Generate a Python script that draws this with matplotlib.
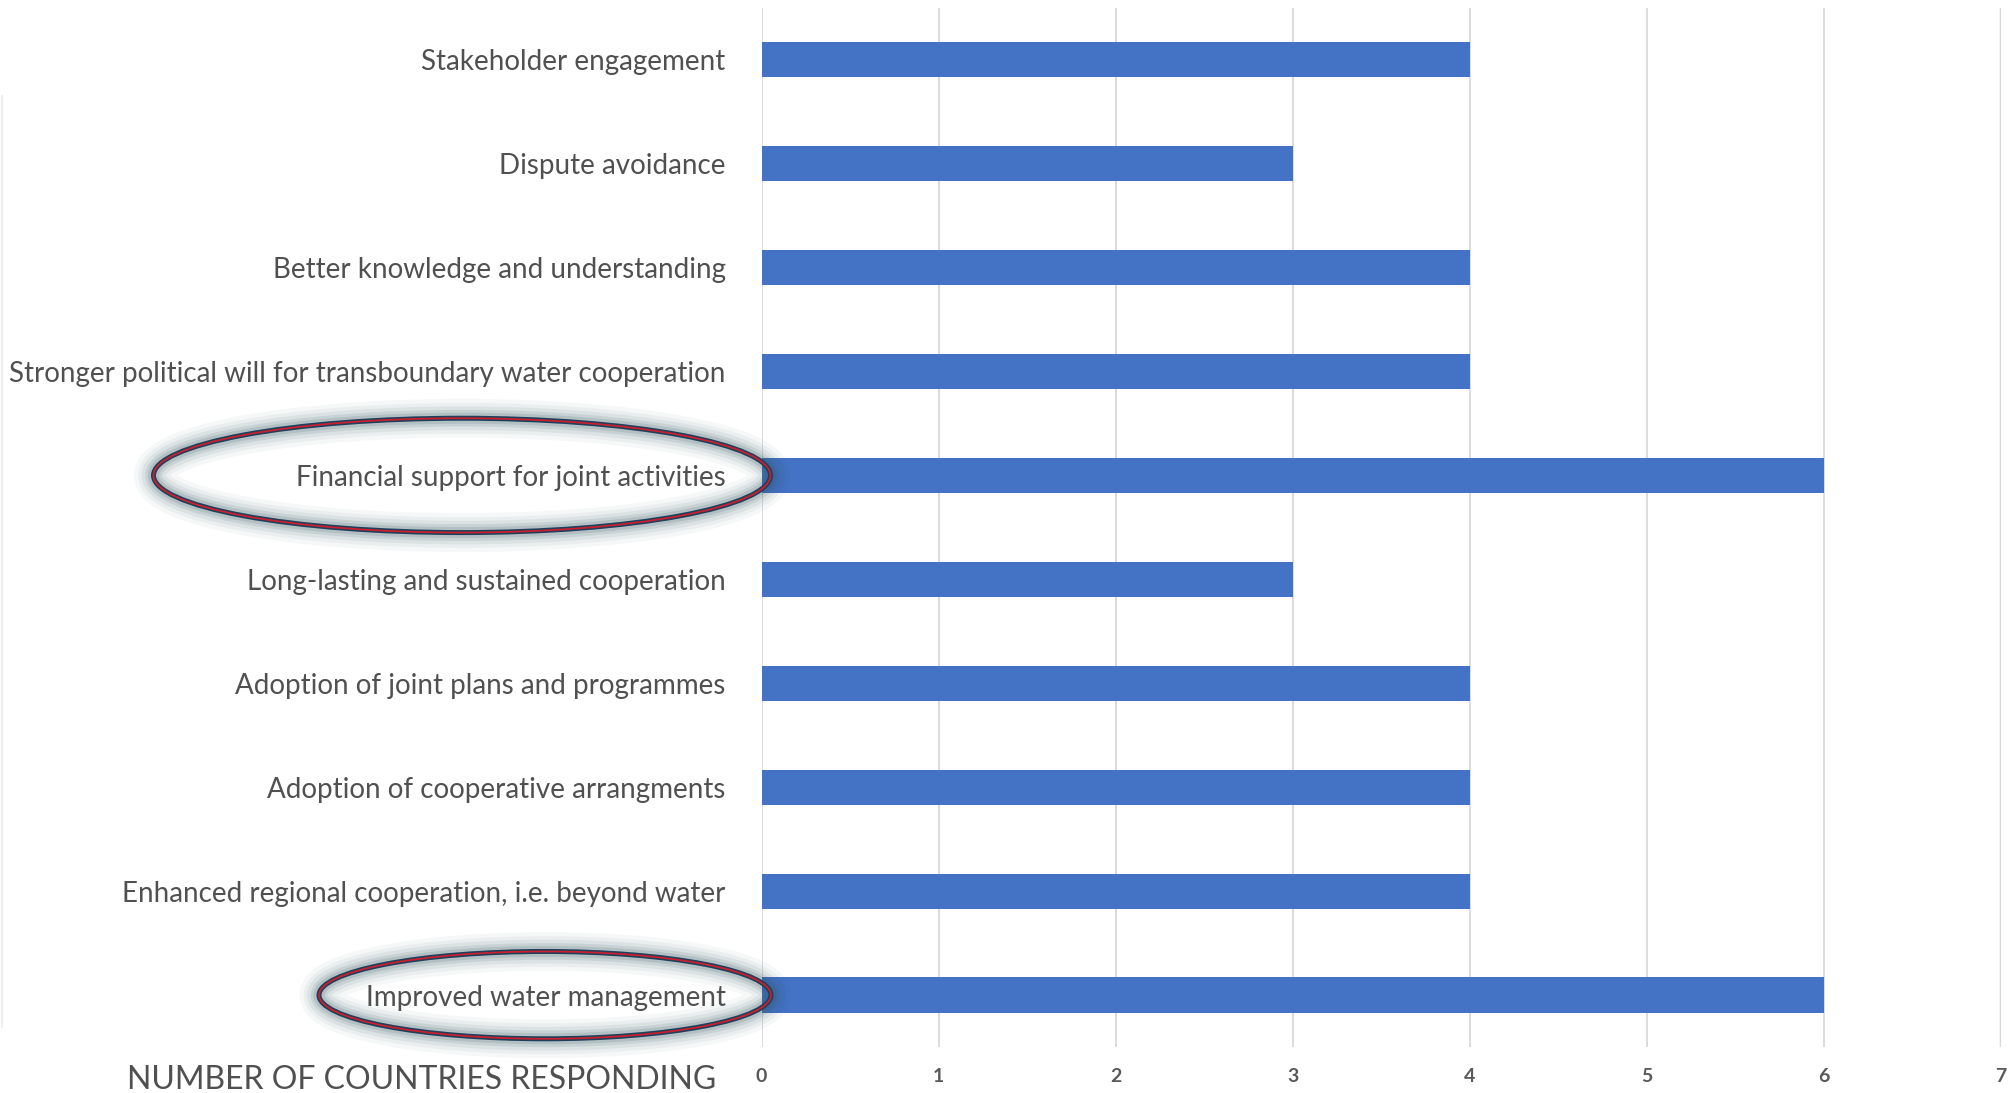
import matplotlib
matplotlib.use("Agg")
import matplotlib.pyplot as plt
import matplotlib.transforms as mtransforms
from matplotlib.patches import Ellipse
from matplotlib.lines import Line2D

# bottom -> top, as barh draws them
categories = [
    "Improved water management",
    "Enhanced regional cooperation, i.e. beyond water",
    "Adoption of cooperative arrangments",
    "Adoption of joint plans and programmes",
    "Long-lasting and sustained cooperation",
    "Financial support for joint activities",
    "Stronger political will for transboundary water cooperation",
    "Better knowledge and understanding",
    "Dispute avoidance",
    "Stakeholder engagement",
]
counts = [6, 4, 4, 4, 3, 6, 4, 4, 3, 4]
xticks = [0, 1, 2, 3, 4, 5, 6, 7]
highlighted = ["Financial support for joint activities", "Improved water management"]

plt.rcParams['font.family'] = ['Lato', 'DejaVu Sans']

fig = plt.figure(figsize=(20.15, 10.93), dpi=100)
ax = fig.add_axes([0.378, 0.042, 0.615, 0.951])

y = list(range(len(categories)))
ax.barh(y, counts, height=0.34, color="#4472C4", zorder=3)

ax.set_xlim(0, 7)
ax.set_ylim(-0.5, len(categories) - 0.5)
ax.set_xticks(xticks)
ax.set_xticklabels([str(t) for t in xticks], fontsize=14, color="#595959",
                   family=['Liberation Sans Narrow', 'Lato'], fontweight='bold')
ax.set_yticks(y)
ax.set_yticklabels(categories, fontsize=20, color="#505050")
ax.tick_params(axis='y', length=0, pad=26)
ax.tick_params(axis='x', length=0, pad=15)
ax.grid(axis='x', color="#d9d9d9", linewidth=1.3, zorder=0)
for s in ax.spines.values():
    s.set_visible(False)
# darker last gridline
ax.axvline(7, color="#d0d0d0", linewidth=2.5, zorder=1)

fig.text(0.3555, 0.004, "NUMBER OF COUNTRIES RESPONDING", ha='right', va='baseline',
         fontsize=23, color="#505050")

# faint frame line on the left edge
fig.add_artist(Line2D([0.001, 0.001], [0.06, 0.912], color="#eeeeee", linewidth=1.5))

# glowing highlight ellipses around two labels
trans = mtransforms.blended_transform_factory(fig.transFigure, ax.transData)
ell_geom = {
    "Financial support for joint activities": (462 / 2015, 617 / 2015, 1.10),
    "Improved water management": (545 / 2015, 452 / 2015, 0.84),
}
for name in highlighted:
    cx, w, h = ell_geom[name]
    cy = categories.index(name)
    for lw, a in [(28, 0.04), (22, 0.06), (17, 0.08), (12, 0.11), (8, 0.14)]:
        ax.add_patch(Ellipse((cx, cy), w, h, transform=trans, fill=False,
                             edgecolor="#2f5560", linewidth=lw, alpha=a,
                             clip_on=False, zorder=5))
    ax.add_patch(Ellipse((cx, cy), w, h, transform=trans, fill=False,
                         edgecolor="#1f3f5c", linewidth=3.6, clip_on=False, zorder=6))
    ax.add_patch(Ellipse((cx, cy), w, h, transform=trans, fill=False,
                         edgecolor="#c8202e", linewidth=1.3, clip_on=False, zorder=7))

fig.savefig("out.png", dpi=100, facecolor="white")
